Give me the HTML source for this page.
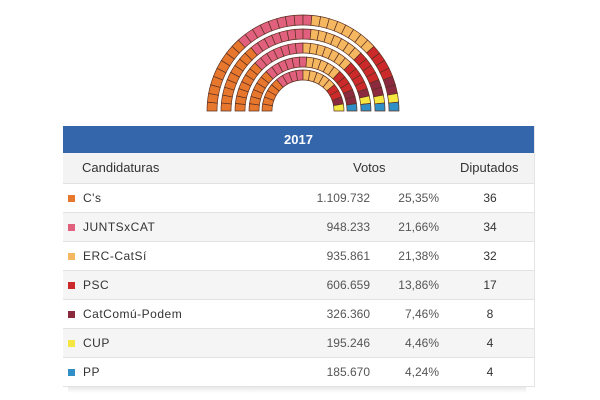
<!DOCTYPE html>
<html><head><meta charset="utf-8"><style>
body{margin:0;width:600px;height:400px;background:#fff;font-family:"Liberation Sans",sans-serif;position:relative;overflow:hidden}
#hemi{position:absolute;left:0;top:0}
.tbl{position:absolute;left:63px;top:126px;width:471px;border-right:1px solid #e4e4e4}
.hd{height:27px;background:#3466ab;color:#fff;font-weight:bold;font-size:13px;text-align:center;line-height:27px}
.row{position:relative;height:28px;border-bottom:1px solid #e2e2e2;font-size:12px;color:#333;background:#fff}
.row.g{background:#f5f5f5}
.row.h{height:30px;background:#f3f3f3;font-size:13px;color:#333}
.row span{position:absolute;top:0;line-height:28px}
.row.h span{line-height:30px}
.sq{position:absolute;left:5px;top:11px;width:7px;height:7px}
.nm{left:20px;letter-spacing:0.5px}
.v{right:164px;color:#555}
.p{right:95px;color:#555}
.d{left:407px;width:40px;text-align:center}
.shadow{position:absolute;left:68px;top:387px;width:458px;height:6px;background:linear-gradient(#e8e8e8,#fff)}
</style></head><body>
<svg id="hemi" width="600" height="120"></svg>
<div class="tbl">
<div class="hd">2017</div>
<div class="row h"><span class="nm" style="left:19px;letter-spacing:0">Candidaturas</span><span style="left:290px">Votos</span><span style="left:397px">Diputados</span></div>
<div class="row"><i class="sq" style="background:#e8772e"></i><span class="nm">C's</span><span class="v">1.109.732</span><span class="p">25,35%</span><span class="d">36</span></div>
<div class="row g"><i class="sq" style="background:#e0607e"></i><span class="nm">JUNTSxCAT</span><span class="v">948.233</span><span class="p">21,66%</span><span class="d">34</span></div>
<div class="row"><i class="sq" style="background:#f5b760"></i><span class="nm">ERC-CatSí</span><span class="v">935.861</span><span class="p">21,38%</span><span class="d">32</span></div>
<div class="row g"><i class="sq" style="background:#cc2a2a"></i><span class="nm">PSC</span><span class="v">606.659</span><span class="p">13,86%</span><span class="d">17</span></div>
<div class="row"><i class="sq" style="background:#8b2a3e"></i><span class="nm">CatComú-Podem</span><span class="v">326.360</span><span class="p">7,46%</span><span class="d">8</span></div>
<div class="row g"><i class="sq" style="background:#f5e642"></i><span class="nm">CUP</span><span class="v">195.246</span><span class="p">4,46%</span><span class="d">4</span></div>
<div class="row"><i class="sq" style="background:#2f8fc6"></i><span class="nm">PP</span><span class="v">185.670</span><span class="p">4,24%</span><span class="d">4</span></div>
</div>
<div class="shadow"></div>
<script>
var cx=303,cy=111,rings=[[31,41,18],[44,54,23],[58,68,28],[72,82,32],[86,96,34]];
var parties=[["#e8772e",36],["#e0607e",34],["#f5b760",32],["#cc2a2a",17],["#8b2a3e",8],["#f5e642",4],["#2f8fc6",4]];
var seats=[];
rings.forEach(function(r){var n=r[2];for(var i=0;i<n;i++){seats.push({r0:r[0],r1:r[1],a0:Math.PI-i*Math.PI/n,a1:Math.PI-(i+1)*Math.PI/n,m:(i+0.5)/n})}});
seats.sort(function(a,b){return a.m-b.m||b.r0-a.r0});
var k=0,s="";
parties.forEach(function(p){for(var j=0;j<p[1];j++){var t=seats[k++];
function pt(r,a){return (cx+r*Math.cos(a)).toFixed(2)+","+(cy-r*Math.sin(a)).toFixed(2)}
s+='<path d="M'+pt(t.r0,t.a0)+' L'+pt(t.r1,t.a0)+' A'+t.r1+','+t.r1+' 0 0 1 '+pt(t.r1,t.a1)+' L'+pt(t.r0,t.a1)+' A'+t.r0+','+t.r0+' 0 0 0 '+pt(t.r0,t.a0)+'Z" fill="'+p[0]+'" stroke="#5a3020" stroke-width="0.7"/>';}});
document.getElementById("hemi").innerHTML=s;
</script>
</body></html>
